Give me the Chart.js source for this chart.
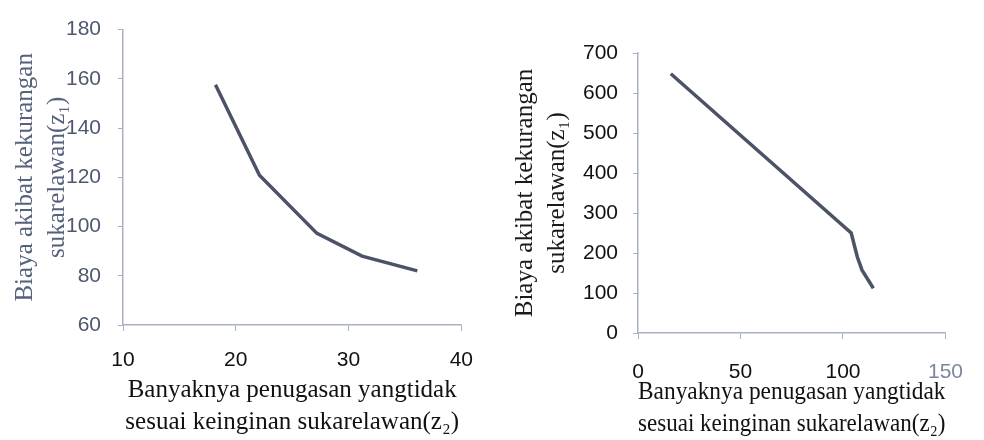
<!DOCTYPE html>
<html>
<head>
<meta charset="utf-8">
<script src="https://cdn.jsdelivr.net/npm/chart.js@4.4.1/dist/chart.umd.min.js"></script>
<style>
  html, body { margin: 0; padding: 0; background: #fff; }
  #left { position: absolute; left: 0; top: 0; }
  #right { position: absolute; left: 490px; top: 0; }
</style>
</head>
<body>
<canvas id="left" width="490" height="440"></canvas>
<canvas id="right" width="494" height="440"></canvas>
<script>
// left panel: z2 vs z1
const leftZ2 = [18.2, 22.1, 27.2, 31.2, 36.1];
const leftZ1 = [157.6, 120.8, 97.2, 88, 82];
const leftXTicks = [10, 20, 30, 40];
const leftYTicks = [60, 80, 100, 120, 140, 160, 180];

// right panel
const rightZ2 = [16, 104, 107, 109.3, 114.8];
const rightZ1 = [648, 250, 190, 157, 112];
const rightXTicks = [0, 50, 100, 150];
const rightYTicks = [0, 100, 200, 300, 400, 500, 600, 700];

const xTitle = ['Banyaknya penugasan yangtidak', 'sesuai keinginan sukarelawan(z\u2082)'];
const yTitle = ['Biaya akibat kekurangan', 'sukarelawan(z\u2081)'];

const axisColor = '#a9b1c4';
const lineColor = '#4c5366';
const serif = 'Liberation Serif';

const points = (xs, ys) => xs.map((x, i) => ({ x: x, y: ys[i] }));
const fixTicks = arr => scale => { scale.ticks = arr.map(v => ({ value: v })); };

function makeChart(id, cfg) {
    return new Chart(document.getElementById(id), {
        type: 'line',
        data: {
            datasets: [{
                data: points(cfg.xs, cfg.ys),
                borderColor: lineColor,
                borderWidth: 3.5,
                pointRadius: 0,
                tension: 0,
                fill: false,
            }],
        },
        options: {
            responsive: false,
            animation: false,
            layout: { padding: cfg.padding },
            plugins: { legend: { display: false }, tooltip: { enabled: false } },
            scales: {
                x: {
                    type: 'linear',
                    min: cfg.xTicks[0],
                    max: cfg.xTicks[cfg.xTicks.length - 1],
                    afterBuildTicks: fixTicks(cfg.xTicks),
                    afterFit: s => { s.height = cfg.xHeight; },
                    border: { color: axisColor, width: 1.5 },
                    grid: { drawOnChartArea: false, tickLength: 6, color: axisColor },
                    ticks: {
                        padding: cfg.xTickPad,
                        color: cfg.xTickColor,
                        font: { family: 'Liberation Sans', size: 21 },
                    },
                    title: {
                        display: true,
                        text: xTitle,
                        color: '#111',
                        font: { family: serif, size: 25, lineHeight: 1.26 },
                        padding: { top: 0, bottom: cfg.xTitlePad },
                    },
                },
                y: {
                    min: cfg.yTicks[0],
                    max: cfg.yTicks[cfg.yTicks.length - 1],
                    afterBuildTicks: fixTicks(cfg.yTicks),
                    afterFit: s => { s.width = cfg.yWidth; },
                    border: { color: axisColor, width: 1.5 },
                    grid: { drawOnChartArea: false, tickLength: 5, color: axisColor },
                    ticks: {
                        padding: cfg.yTickPad,
                        color: cfg.yTickColor,
                        font: { family: 'Liberation Sans', size: 21 },
                    },
                    title: {
                        display: true,
                        text: yTitle,
                        color: cfg.yTitleColor,
                        font: { family: serif, size: 25, lineHeight: 1.28 },
                        padding: { top: cfg.yTitlePad, bottom: 0 },
                    },
                },
            },
        },
    });
}

makeChart('left', {
    xs: leftZ2, ys: leftZ1,
    xTicks: leftXTicks, yTicks: leftYTicks,
    padding: { left: 0, top: 25, right: 27, bottom: 0 },
    xHeight: 115, yWidth: 123,
    xTickPad: 17, yTickPad: 17,
    xTickColor: '#111', yTickColor: '#4e5870',
    xTitlePad: 2, yTitlePad: 9,
    yTitleColor: '#56617c',
});

makeChart('right', {
    xs: rightZ2, ys: rightZ1,
    xTicks: rightXTicks, yTicks: rightYTicks,
    padding: { left: 0, top: 53, right: 18, bottom: 0 },
    xHeight: 107, yWidth: 148,
    xTickPad: 21, yTickPad: 15,
    xTickColor: c => (c.tick && c.tick.value === 150 ? '#7d879c' : '#111'),
    yTickColor: '#111',
    xTitlePad: 0, yTitlePad: 19,
    yTitleColor: '#1a1a1a',
});
</script>
</body>
</html>
